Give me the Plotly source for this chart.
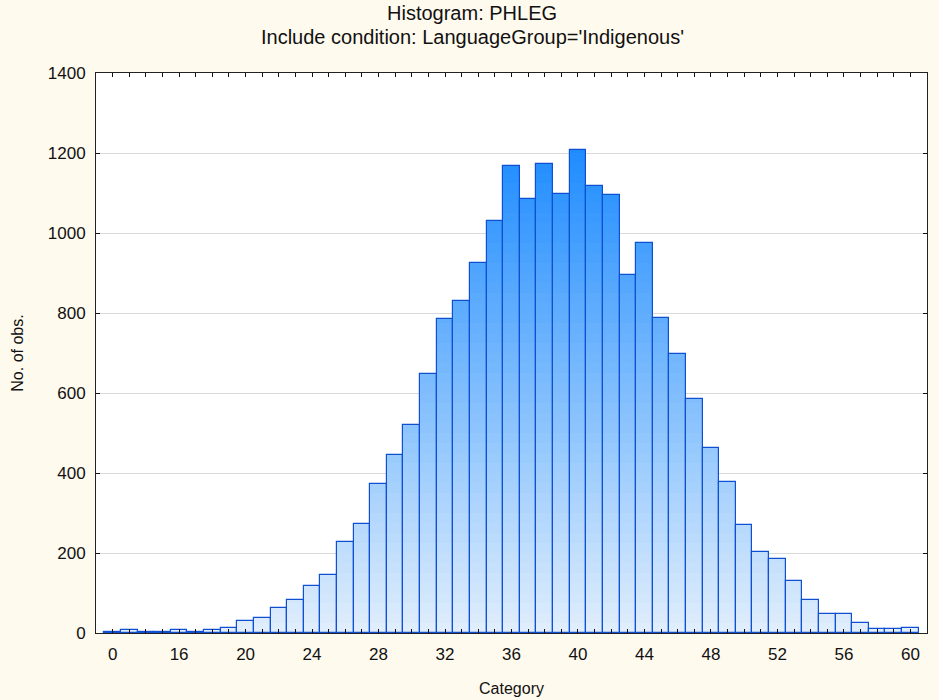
import plotly.graph_objects as go

# ---- data ----
categories = ["0", "13", "14", "15"] + [str(c) for c in range(16, 61)]
counts = [2, 7, 3, 3,
          7, 3, 7, 12, 29, 38, 62, 83, 117, 144,
          227, 273, 373, 444, 521, 647, 785, 831, 924, 1030,
          1167, 1084, 1173, 1097, 1207, 1118, 1094, 896, 975, 787,
          697, 585, 462, 377, 270, 202, 185, 130, 83, 47,
          47, 26, 11, 9, 12]
tick_labels = ["0", "16", "20", "24", "28", "32", "36", "40", "44", "48", "52", "56", "60"]
y_ticks = [0, 200, 400, 600, 800, 1000, 1200, 1400]

title_1 = "Histogram: PHLEG"
title_2 = "Include condition: LanguageGroup='Indigenous'"

# ---- gradient helper (colour depends on height, like the original fill) ----
c_low = (225, 238, 252)
c_high = (30, 140, 255)
v_high = 1210.0


def grad(v):
    t = max(0.0, min(1.0, v / v_high))
    r, g, b = (round(a + (b_ - a) * t) for a, b_ in zip(c_low, c_high))
    return f"rgb({r},{g},{b})"


band = 25
tops = list(range(band, 1250 + band, band))

fig = go.Figure()

# gradient layers: drawn from the highest band down, each covering 0..min(v, top)
for top in reversed(tops):
    fig.add_trace(go.Bar(
        x=categories,
        y=[min(v, top) for v in counts],
        marker=dict(color=grad(top - band / 2), line=dict(width=0)),
        hoverinfo="skip",
        showlegend=False,
    ))

# outlines on top
fig.add_trace(go.Bar(
    x=categories,
    y=counts,
    marker=dict(color="rgba(0,0,0,0)", line=dict(color="#0e4fd4", width=1.2)),
    showlegend=False,
    name="No. of obs.",
))

tickvals = categories
ticktext = [c if c in tick_labels else "" for c in categories]

fig.update_layout(
    width=939, height=700,
    barmode="overlay", bargap=0,
    paper_bgcolor="#fffaee",
    plot_bgcolor="#ffffff",
    margin=dict(l=96, r=12, t=73, b=67, autoexpand=False),
    font=dict(family="Liberation Sans, Arial, sans-serif", color="#111111"),
    xaxis=dict(
        type="category",
        categoryorder="array", categoryarray=categories,
        range=[-1, len(categories)],
        tickmode="array", tickvals=tickvals, ticktext=ticktext,
        ticks="inside", ticklen=4, tickcolor="#111111", tickwidth=1,
        showline=True, linecolor="#222222", linewidth=1, mirror="ticks",
        showgrid=False,
        tickfont=dict(size=17),
        ticklabelstandoff=6,
        automargin=False,
        title=dict(text="Category", font=dict(size=16), standoff=19),
    ),
    yaxis=dict(
        range=[0, 1400],
        tickmode="array", tickvals=y_ticks,
        ticks="inside", ticklen=4, tickcolor="#111111", tickwidth=1,
        showline=True, linecolor="#222222", linewidth=1, mirror="ticks",
        showgrid=True, gridcolor="#d9d9d9", gridwidth=1,
        zeroline=False,
        tickfont=dict(size=17),
        ticklabelstandoff=6,
        automargin=False,
        title=dict(text="No. of obs.", font=dict(size=16), standoff=20),
    ),
    annotations=[
        dict(text=title_1, xref="paper", yref="paper", x=0.453, y=1.107,
             xanchor="center", yanchor="middle", showarrow=False,
             font=dict(size=20)),
        dict(text=title_2, xref="paper", yref="paper", x=0.453, y=1.064,
             xanchor="center", yanchor="middle", showarrow=False,
             font=dict(size=20)),
    ],
)

fig.write_html("out.html", config={"displayModeBar": False})

# remove the browser's default body margin so the figure sits at the page origin
with open("out.html", "r", encoding="utf-8") as f:
    html = f.read()
html = html.replace("<head>", "<head><style>html,body{margin:0;padding:0;}</style>", 1)
with open("out.html", "w", encoding="utf-8") as f:
    f.write(html)
